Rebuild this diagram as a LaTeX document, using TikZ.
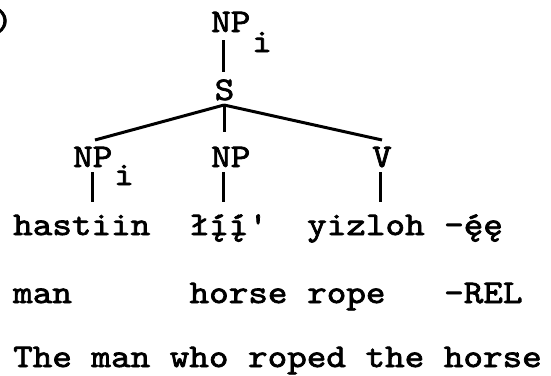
\documentclass[tikz,border=0pt]{standalone}
\usepackage{fontspec}
\newfontfamily\tw{lmmono10-regular.otf}[FakeBold=2.2,FakeStretch=1.13]
\begin{document}
\begin{tikzpicture}[x=1pt,y=-1pt,
  lbl/.style={inner sep=0pt,anchor=base west,font=\tw\fontsize{33}{40}\selectfont},
  br/.style={line width=3pt}]
\useasboundingbox (0,0) rectangle (551,375);
% partial label at left edge
\node[lbl] (paren) at (-7,31) {)};
% tree labels
\node[lbl] (nptop) at (211,32) {NP};
\node[lbl] (itop) at (252,52) {i};
\node[lbl] (s) at (214.5,100) {S};
\node[lbl] (npl) at (73,167) {NP};
\node[lbl] (il) at (114,185) {i};
\node[lbl] (npm) at (211,167) {NP};
\node[lbl] (v) at (372,167) {V};
% coordinates for branches
\coordinate (tb) at (223,40);
\coordinate (st) at (223,72);
\coordinate (apex) at (224,105);
\coordinate (lend) at (95,140);
\coordinate (mend) at (224,132);
\coordinate (vend) at (382,140);
\coordinate (l1) at (92,172);  \coordinate (l2) at (92,202);
\coordinate (m1) at (223,172); \coordinate (m2) at (223,202);
\coordinate (v1) at (380,172); \coordinate (v2) at (380,202);
\draw[br] (tb) -- (st);
\draw[br] (apex) -- (lend);
\draw[br] (apex) -- (mend);
\draw[br] (apex) -- (vend);
\draw[br] (l1) -- (l2);
\draw[br] (m1) -- (m2);
\draw[br] (v1) -- (v2);
% row 1
\node[lbl] (w1) at (13,235) {hastiin};
\node[lbl] (w2) at (189.4,235) {łį́į́'};
\node[lbl] (w3) at (307,235) {yizloh};
\node[lbl] (w4) at (444,235) {-ę́ę};
% row 2
\node[lbl] (g1) at (13,303) {man};
\node[lbl] (g2) at (189.4,303) {horse};
\node[lbl] (g3) at (307,303) {rope};
\node[lbl] (g4) at (444,303) {-REL};
% row 3
\node[lbl] (tr) at (13,367) {The man who roped the horse};
\end{tikzpicture}
\end{document}
